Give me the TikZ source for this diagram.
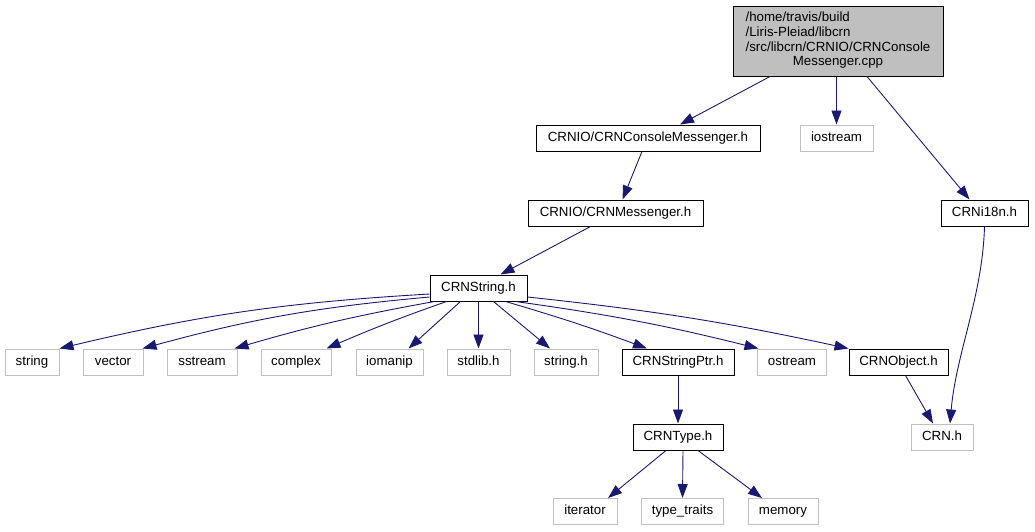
\documentclass[tikz,border=0pt]{standalone}
\usepackage{fontspec}
\setmainfont{Liberation Sans}
\usetikzlibrary{arrows.meta}
\definecolor{edgeblue}{HTML}{191970}
\definecolor{missgray}{HTML}{BFBFBF}
\begin{document}
\begin{tikzpicture}[x=1pt,y=1pt,
  every node/.style={font=\fontsize{13.3}{14.7}\selectfont, inner sep=0pt},
  box/.style={minimum height=26pt, inner xsep=10pt, fill=white},
  oneline/.style={text height=9.6pt, text depth=2.8pt},
  doc/.style={box, oneline, draw=black, line width=1pt},
  miss/.style={box, oneline, draw=missgray, line width=1pt},
  edge/.style={draw=edgeblue, line width=0.9pt, -{Triangle[length=14pt,width=10pt]}}]
\useasboundingbox (0,0) rectangle (1035,-531);
\node[box, draw=black, line width=1pt, fill=missgray, minimum width=210pt, minimum height=70pt] (main) at (838,-41)
  {\begin{tabular}{@{}l@{}}/home/travis/build\\/Liris-Pleiad/libcrn\\/src/libcrn/CRNIO/CRNConsole\\\multicolumn{1}{@{}c@{}}{Messenger.cpp}\end{tabular}};
\node[doc, minimum width=224pt] (cm) at (648,-138) {CRNIO/CRNConsoleMessenger.h};
\node[miss, minimum width=73pt] (io) at (836.5,-138) {iostream};
\node[doc, minimum width=175pt] (msg) at (615.5,-213) {CRNIO/CRNMessenger.h};
\node[doc, minimum width=87pt] (i18n) at (984.5,-213) {CRNi18n.h};
\node[doc, minimum width=97pt] (str) at (478.5,-288) {CRNString.h};
\node[miss, minimum width=54pt] (string) at (32,-362) {string};
\node[miss, minimum width=60pt] (vector) at (113,-362) {vector};
\node[miss, minimum width=70pt] (sstream) at (202,-362) {sstream};
\node[miss, minimum width=70pt] (complex) at (296,-362) {complex};
\node[miss, minimum width=67pt] (iomanip) at (389.5,-362) {iomanip};
\node[miss, minimum width=63pt] (stdlib) at (478.5,-362) {stdlib.h};
\node[miss, minimum width=64pt] (stringh) at (566,-362) {string.h};
\node[doc, minimum width=112pt] (sp) at (678,-362) {CRNStringPtr.h};
\node[miss, minimum width=68pt] (ostream) at (792,-362) {ostream};
\node[doc, minimum width=99pt] (obj) at (898.5,-362) {CRNObject.h};
\node[doc, minimum width=90pt] (type) at (678,-437) {CRNType.h};
\node[miss, minimum width=62pt] (crn) at (942,-437) {CRN.h};
\node[miss, minimum width=64pt] (iter) at (585,-511.5) {iterator};
\node[miss, minimum width=81pt] (tt) at (682.5,-511.5) {type\_traits};
\node[miss, minimum width=70pt] (mem) at (783,-511.5) {memory};
% edges
\draw[edge] ([xshift=-68pt]main.south) -- ([xshift=32pt]cm.north);
\draw[edge] ([xshift=-1.5pt]main.south) -- (io.north);
\draw[edge] ([xshift=29pt]main.south) -- ([xshift=-15pt]i18n.north);
\draw[edge] ([xshift=-6pt]cm.south) -- ([xshift=7pt]msg.north);
\draw[edge] ([xshift=-25pt]msg.south) -- ([xshift=22pt]str.north);
\draw[edge] (i18n.south) .. controls ([xshift=-2pt,yshift=-70pt]i18n.south) and ([xshift=14pt,yshift=70pt]crn.north) .. ([xshift=8pt]crn.north);
\draw[edge] ([yshift=-6pt]str.west) to[bend right=5] (string.north east);
\draw[edge] ([yshift=-9pt]str.west) to[bend right=5] ([xshift=-1pt]vector.north east);
\draw[edge] ([xshift=5pt]str.south west) to[bend right=3] ([xshift=-3pt]sstream.north east);
\draw[edge] ([xshift=17pt]str.south west) to[bend right=2] ([xshift=-5pt]complex.north east);
\draw[edge] ([xshift=-18pt]str.south) -- ([xshift=19pt]iomanip.north);
\draw[edge] (str.south) -- (stdlib.north);
\draw[edge] ([xshift=15pt]str.south) -- ([xshift=-16pt]stringh.north);
\draw[edge] ([xshift=27pt]str.south) to[bend left=2] ([xshift=-31pt]sp.north);
\draw[edge] ([xshift=-12pt]str.south east) to[bend left=3] ([xshift=1pt]ostream.north west);
\draw[edge] ([yshift=-9pt]str.east) to[bend left=3] (obj.north west);
\draw[edge] (sp.south) -- (type.north);
\draw[edge] ([xshift=7pt]obj.south) -- ([xshift=-9pt]crn.north);
\draw[edge] ([xshift=-12pt]type.south) -- ([xshift=23pt]iter.north);
\draw[edge] ([xshift=5pt]type.south) -- (tt.north);
\draw[edge] ([xshift=20pt]type.south) -- ([xshift=-21pt]mem.north);
\end{tikzpicture}
\end{document}
